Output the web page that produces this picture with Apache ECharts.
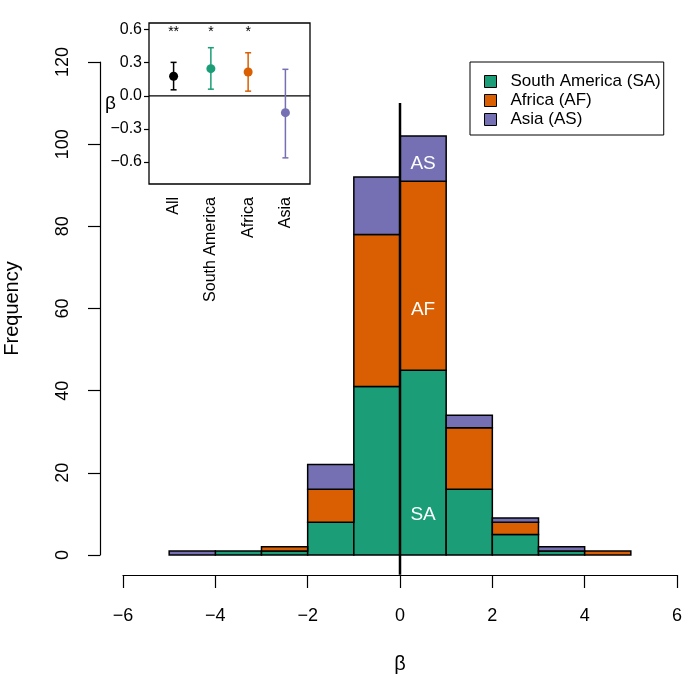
<!DOCTYPE html>
<html><head><meta charset="utf-8">
<script src="https://cdn.jsdelivr.net/npm/echarts@6/dist/echarts.min.js"></script>
<style>html,body{margin:0;padding:0;background:#fff}#c{width:700px;height:677px}</style>
</head><body><div id="c"></div>
<script>
// ---- main histogram data ----
const binStarts = [-5,-4,-3,-2,-1,0,1,2,3,4];
const binWidth = 1;
const saCounts = [0,1,1,8,41,45,16,5,1,0];
const afCounts = [0,0,1,8,37,46,15,3,0,1];
const asCounts = [1,0,0,6,14,11,3,1,1,0];
const seriesNames = ['South America (SA)','Africa (AF)','Asia (AS)'];
const seriesColors = ['#1b9e77','#d95f02','#7570b3'];
const xTicks = [-6,-4,-2,0,2,4,6];
const yTicks = [0,20,40,60,80,100,120];
const annotText = ['SA','AF','AS'];
const annotX = [0.5,0.5,0.5];
const annotY = [9.7,59.6,95.2];
const vlineX = [0,0];
const vlineY = [-4.8,110];

// ---- inset data ----
const insetCats = ['All','South America','Africa','Asia'];
const insetEst = [0.177,0.246,0.216,-0.153];
const insetLo = [0.054,0.060,0.042,-0.563];
const insetHi = [0.303,0.436,0.390,0.240];
const insetStars = ['**','*','*',''];
const insetColors = ['#000000','#1b9e77','#d95f02','#7570b3'];
const insetTicks = [-0.6,-0.3,0,0.3,0.6];

const FONT = 'Liberation Sans, Arial, Helvetica, sans-serif';
const groups = [saCounts, afCounts, asCounts];

function stackData(k){
  const out = [];
  for (let i=0;i<binStarts.length;i++){
    let base = 0;
    for (let j=0;j<k;j++) base += groups[j][i];
    const v = groups[k][i];
    if (v>0) out.push([binStarts[i], binStarts[i]+binWidth, base, base+v]);
  }
  return out;
}
function rectRender(color){
  return function(params, api){
    const p0 = api.coord([api.value(0), api.value(3)]);
    const p1 = api.coord([api.value(1), api.value(2)]);
    return {type:'rect', shape:{x:p0[0], y:p0[1], width:p1[0]-p0[0], height:p1[1]-p0[1]},
      style:{fill:color, stroke:'#000', lineWidth:1.5}};
  };
}
const histSeries = seriesNames.map((n,k)=>({
  name:n, type:'custom', xAxisIndex:0, yAxisIndex:0,
  renderItem: rectRender(seriesColors[k]),
  encode:{x:[0,1], y:[2,3]},
  itemStyle:{color:seriesColors[k], borderColor:'#000', borderWidth:1},
  data: stackData(k), z:2
}));

const fmtMinus = v => (v<0?'\u2212':'') + Math.abs(v);
const fmtMinus1 = v => (v<0?'\u2212':'') + Math.abs(v).toFixed(1);

const option = {
  animation:false,
  backgroundColor:'#fff',
  textStyle:{fontFamily:FONT},
  legend:{
    data: seriesNames.map(n=>({name:n, icon:'rect'})),
    orient:'vertical', left:470, top:62,
    borderColor:'#000', borderWidth:1, borderRadius:0,
    padding:[11,3,7,14], itemGap:2, itemWidth:12, itemHeight:12,
    itemStyle:{borderColor:'#000', borderWidth:1},
    textStyle:{fontFamily:FONT, fontSize:17, color:'#000', lineHeight:17, padding:[0,0,0,9]},
    selectedMode:false
  },
  grid:[
    {left:123, top:62, width:554, height:493, show:false, outerBoundsMode:'none', containLabel:false},
    {left:149, top:23, width:161, height:161, show:true, borderColor:'#000', borderWidth:1.3, backgroundColor:'#fff', z:5, outerBoundsMode:'none', containLabel:false}
  ],
  xAxis:[
    {type:'value', gridIndex:0, min:-6, max:6, interval:2, offset:20, position:'bottom',
     axisLine:{show:true, onZero:false, lineStyle:{color:'#000', width:1.2}},
     axisTick:{show:true, length:13, lineStyle:{color:'#000', width:1.2}},
     axisLabel:{show:true, margin:32, fontSize:18, color:'#000', fontFamily:FONT, formatter:fmtMinus},
     splitLine:{show:false},
     name:'\u03b2', nameLocation:'middle', nameGap:79, nameMoveOverlap:false,
     nameTextStyle:{fontSize:20, color:'#000', fontFamily:FONT}},
    {type:'value', gridIndex:1, min:0.34, max:4.66, position:'bottom',
     axisLine:{show:false, onZero:false},
     axisTick:{show:false},
     axisLabel:{show:true, customValues:[1,2,3,4], rotate:90, margin:13, fontSize:16, color:'#000', fontFamily:FONT,
       formatter: v => insetCats[Math.round(v)-1] || ''},
     splitLine:{show:false}}
  ],
  yAxis:[
    {type:'value', gridIndex:0, min:0, max:120, interval:20, offset:23, position:'left',
     axisLine:{show:true, onZero:false, lineStyle:{color:'#000', width:1.2}},
     axisTick:{show:true, length:12, lineStyle:{color:'#000', width:1.2}},
     axisLabel:{show:true, rotate:90, margin:28, fontSize:18, color:'#000', fontFamily:FONT},
     splitLine:{show:false},
     name:'Frequency', nameLocation:'middle', nameGap:78, nameMoveOverlap:false,
     nameTextStyle:{fontSize:20, color:'#000', fontFamily:FONT}},
    {type:'value', gridIndex:1, min:-0.8, max:0.66, position:'left',
     axisLine:{show:false, onZero:false},
     axisTick:{show:true, customValues:insetTicks, length:5, lineStyle:{color:'#000', width:1.2}},
     axisLabel:{show:true, customValues:insetTicks, margin:7, fontSize:16, color:'#000', fontFamily:FONT, formatter:fmtMinus1},
     splitLine:{show:false},
     name:'\u03b2', nameLocation:'middle', nameRotate:0, nameGap:33, nameMoveOverlap:false,
     nameTextStyle:{fontSize:19, color:'#000', fontFamily:FONT}}
  ],
  series:[
    ...histSeries,
    {type:'line', xAxisIndex:0, yAxisIndex:0, clip:false, symbol:'none', silent:true, z:4,
     lineStyle:{color:'#000', width:2.5}, data: vlineX.map((x,i)=>[x, vlineY[i]])},
    {type:'scatter', xAxisIndex:0, yAxisIndex:0, symbolSize:0, silent:true, z:6,
     itemStyle:{opacity:1},
     data: annotText.map((t,i)=>[annotX[i], annotY[i], t]),
     label:{show:true, position:'inside', formatter:p=>p.data[2], color:'#fff', opacity:1, fontSize:19, fontFamily:FONT}},
    // inset
    {type:'line', xAxisIndex:1, yAxisIndex:1, symbol:'none', silent:true, z:6,
     lineStyle:{color:'#000', width:1.3}, data:[[0.34,0],[4.66,0]]},
    {type:'custom', xAxisIndex:1, yAxisIndex:1, z:7, silent:true,
     encode:{x:0, y:[1,2]},
     data: insetCats.map((c,i)=>[i+1, insetLo[i], insetHi[i]]),
     renderItem:(params, api)=>{
       const x = api.value(0);
       const lo = api.coord([x, api.value(1)]);
       const hi = api.coord([x, api.value(2)]);
       const col = insetColors[params.dataIndex];
       const cap = 3;
       const st = {stroke:col, lineWidth:1.5};
       return {type:'group', children:[
         {type:'line', shape:{x1:lo[0],y1:lo[1],x2:hi[0],y2:hi[1]}, style:st},
         {type:'line', shape:{x1:lo[0]-cap,y1:lo[1],x2:lo[0]+cap,y2:lo[1]}, style:st},
         {type:'line', shape:{x1:hi[0]-cap,y1:hi[1],x2:hi[0]+cap,y2:hi[1]}, style:st}
       ]};
     }},
    {type:'scatter', xAxisIndex:1, yAxisIndex:1, z:8, silent:true, symbolSize:9,
     data: insetEst.map((v,i)=>({value:[i+1, v], itemStyle:{color:insetColors[i], opacity:1}}))},
    {type:'scatter', xAxisIndex:1, yAxisIndex:1, z:8, silent:true, symbolSize:0, itemStyle:{opacity:1},
     data: insetStars.map((s,i)=>[i+1, 0.58, s]),
     label:{show:true, position:'inside', formatter:p=>p.data[2], color:'#000', opacity:1, fontSize:14, fontFamily:FONT}}
  ]
};
const chart = echarts.init(document.getElementById('c'), null, {renderer:'canvas'});
chart.setOption(option);
</script>
</body></html>
